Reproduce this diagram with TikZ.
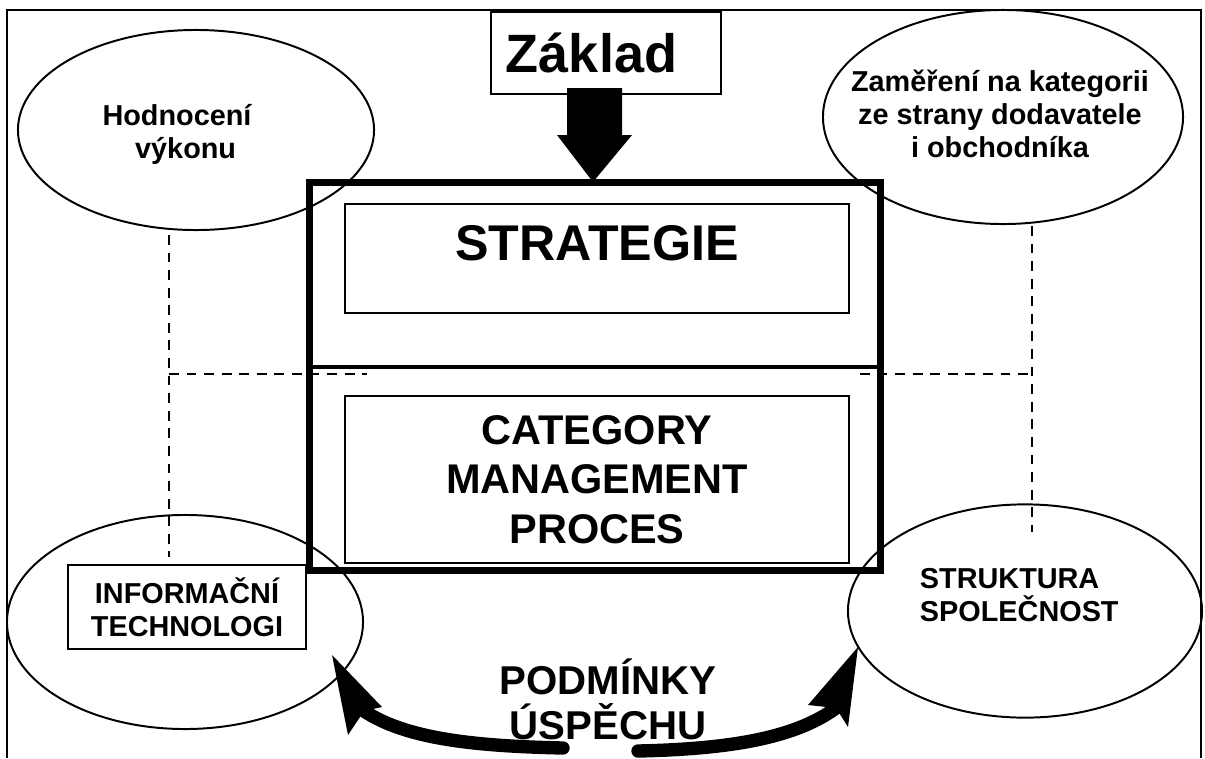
\documentclass[tikz,border=0pt]{standalone}
\usepackage{fontspec}
\setmainfont{Liberation Sans}
\usetikzlibrary{positioning,shapes.geometric}

\newcommand{\smalltxt}{\fontsize{20.5}{23.5}\selectfont\bfseries}
\newcommand{\midtxt}{\fontsize{29.5}{35}\selectfont\bfseries}
\newcommand{\bigtxt}{\fontsize{35.7}{40}\selectfont\bfseries}
\newcommand{\basetxt}{\fontsize{38.4}{44}\selectfont\bfseries}
\newcommand{\condtxt}{\fontsize{28.6}{32}\selectfont\bfseries}

\begin{document}
\begin{tikzpicture}[x=0.025cm, y=-0.025cm,
    oval/.style={draw, ellipse, line width=1.4pt, inner sep=0pt},
    box/.style={draw, rectangle, line width=1.6pt, inner sep=0pt, align=center},
    guide/.style={line width=1.6pt, dash pattern=on 7pt off 5.5pt},
    curved/.style={line width=9.5pt, line cap=round}]
    \useasboundingbox (0,0) rectangle (1205,758);

    % frame, open at the bottom
    \draw[line width=1.4pt] (7,758) -- (7,10) -- (1201,10) -- (1201,758);

    \node[oval, minimum width=8.9cm, minimum height=5cm] (hodnoceni) at (196,130) {};
    \node[oval, minimum width=9cm, minimum height=5.35cm] (zamereni) at (1003,117) {};
    \node[oval, minimum width=8.9cm, minimum height=5.35cm] (infooval) at (185,622) {};
    \node[oval, minimum width=8.85cm, minimum height=5.33cm] (strukoval) at (1025,611) {};

    \node[align=center, font=\smalltxt] (hodnotxt) at (177,134) {Hodnocení\\\hspace*{0.6em}výkonu};
    \node[align=center, font=\smalltxt] (zameritxt) at (1000,114) {Zaměření na kategorii\\ze strany dodavatele\\i obchodníka};
    \node[box, minimum width=5.95cm, minimum height=2.1cm, font=\smalltxt] (info) at (187,607) {INFORMAČNÍ\\TECHNOLOGI};
    \node[anchor=west, align=left, font=\smalltxt] (struktura) at (915,595) {STRUKTURA\\SPOLEČNOST};

    % main block
    \node[draw, line width=5pt, minimum width=14.25cm, minimum height=9.675cm] (mainbox) at (595,376.5) {};
    \coordinate (split) at (595,367);
    \draw[line width=2.4pt] (mainbox.west |- split) -- (mainbox.east |- split);

    \node[box, minimum width=12.6cm, text height=1.41cm, text depth=1.31cm, font=\bigtxt] (strategie) at (597,258.5) {STRATEGIE};
    \node[box, minimum width=12.6cm, minimum height=4.175cm, font=\midtxt] (proces) at (597,479.5) {CATEGORY\\MANAGEMENT\\PROCES};

    \node[box, minimum height=2.05cm, text width=5cm, inner xsep=0.375cm, align=left, font=\basetxt] (zaklad) at (606,53) {Základ};
    \fill (567,88) -- (622,88) -- (622,135) -- (632,135) -- (593,182) -- (557,135) -- (567,135) -- cycle;

    % dashed guides
    \coordinate (lt) at (169,235);
    \coordinate (lb) at (169,557);
    \coordinate (lm) at (367,374);
    \coordinate (rt) at (1032,226);
    \coordinate (rb) at (1032,532);
    \coordinate (rm) at (860,374);
    \draw[guide] (lt) -- (lb);
    \draw[guide] (lt |- lm) -- (lm);
    \draw[guide] (rt) -- (rb);
    \draw[guide] (rm) -- (rt |- rm);

    \node[align=center, font=\condtxt] (podminky) at (608,699) {PODMÍNKY\\ÚSPĚCHU};

    % curved arrows
    \coordinate (ltail) at (563,748);
    \coordinate (lnotch) at (364,711);
    \draw[curved] (ltail) .. controls (470,746) and (405,738) .. (lnotch);
    \fill (332,655) -- (382,707) -- (lnotch) -- (348,735) -- cycle;

    \coordinate (rtail) at (638,751);
    \coordinate (rnotch) at (836,708);
    \draw[curved] (rtail) .. controls (730,749) and (795,738) .. (rnotch);
    \fill (858,647) -- (848,727) -- (rnotch) -- (808,705) -- cycle;
\end{tikzpicture}
\end{document}
